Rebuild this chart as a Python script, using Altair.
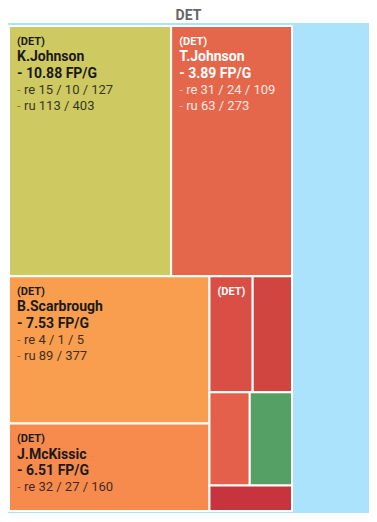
import altair as alt
import pandas as pd

team = "DET"
players = ["K.Johnson", "T.Johnson", "B.Scarbrough", "J.McKissic", "p5", "p6", "p7", "p8", "p9"]
values = [420.8, 313.7, 306.0, 181.6, 51.9, 47.2, 39.0, 40.9, 21.8]
fpg = ["10.88", "3.89", "7.53", "6.51", "", "", "", "", ""]
rec_line = ["15 / 10 / 127", "31 / 24 / 109", "4 / 1 / 5", "32 / 27 / 160", "", "", "", "", ""]
rush_line = ["113 / 403", "63 / 273", "89 / 377", "", "", "", "", "", ""]
fills = ["#cfc962", "#e5674b", "#f99e4f", "#f78b4e", "#d94f45", "#d0453f", "#e5604a", "#55a064", "#c7343e"]
text_colors = ["#1a1a1a", "#ffffff", "#1a1a1a", "#1a1a1a", "#ffffff", "#ffffff", "#ffffff", "#ffffff", "#ffffff"]
label_level = [2, 2, 2, 2, 1, 0, 0, 0, 0]

W, H = 361, 490
BOX = (1, 3, 284, 488)


def squarify(vals, x0, y0, x1, y1, ratio=(1 + 5 ** 0.5) / 2):
    out = [None] * len(vals)
    n = len(vals)
    i0 = i1 = 0
    value = sum(vals)
    while i0 < n:
        dx, dy = x1 - x0, y1 - y0
        sumv = vals[i1]
        i1 += 1
        minv = maxv = sumv
        alpha = max(dy / dx, dx / dy) / (value * ratio)
        beta = sumv * sumv * alpha
        minr = max(maxv / beta, beta / minv)
        while i1 < n:
            nv = vals[i1]
            s2 = sumv + nv
            mn, mx = min(minv, nv), max(maxv, nv)
            beta = s2 * s2 * alpha
            nr = max(mx / beta, beta / mn)
            if nr > minr:
                break
            sumv, minv, maxv, minr = s2, mn, mx, nr
            i1 += 1
        if dx < dy:
            h = dy * sumv / value
            xx = x0
            for i in range(i0, i1):
                w = dx * vals[i] / sumv
                out[i] = (xx, y0, xx + w, y0 + h)
                xx += w
            y0 += h
        else:
            w = dx * sumv / value
            yy = y0
            for i in range(i0, i1):
                h = dy * vals[i] / sumv
                out[i] = (x0, yy, x0 + w, yy + h)
                yy += h
            x0 += w
        value -= sumv
        i0 = i1
    return out


rects = squarify(values, *BOX)
df = pd.DataFrame({
    "player": players,
    "value": values,
    "x0": [r[0] for r in rects],
    "y0": [r[1] for r in rects],
    "x1": [r[2] for r in rects],
    "y1": [r[3] for r in rects],
    "fill": fills,
    "tcolor": text_colors,
    "level": label_level,
    "team": ["(" + team + ")"] * len(players),
    "fpg": ["- " + f + " FP/G" if f else "" for f in fpg],
    "re": ["re " + r if r else "" for r in rec_line],
    "ru": ["ru " + r if r else "" for r in rush_line],
})

FONT = "Roboto"
xs = alt.Scale(domain=[0, W], nice=False, zero=False)
ys = alt.Scale(domain=[0, H], nice=False, zero=False, reverse=True)

base = alt.Chart(df)

backdrop = alt.Chart(pd.DataFrame({"team": [team]})).mark_rect(color="#abe3fd").encode(
    x=alt.value(0), x2=alt.value(W), y=alt.value(0), y2=alt.value(H)
)

boxes = base.mark_rect(stroke="white", strokeWidth=2).encode(
    x=alt.X("x0:Q", scale=xs, axis=None),
    x2="x1:Q",
    y=alt.Y("y0:Q", scale=ys, axis=None),
    y2="y1:Q",
    color=alt.Color("fill:N", scale=None),
    tooltip=["player:N", "value:Q"],
)


def txt(field, dy, size, weight, flt, dx=8, opacity=1.0, text_value=None):
    enc = dict(
        x=alt.X("x0:Q", scale=xs, axis=None),
        y=alt.Y("y0:Q", scale=ys, axis=None),
        color=alt.Color("tcolor:N", scale=None),
    )
    if text_value is None:
        enc["text"] = alt.Text(field + ":N")
    else:
        enc["text"] = alt.value(text_value)
    return base.transform_filter(flt).mark_text(
        align="left", baseline="middle", dx=dx, dy=dy, fontSize=size,
        fontWeight=weight, font=FONT, opacity=opacity,
    ).encode(**enc)


layers = [
    backdrop,
    boxes,
    txt("team", 15.5, 11, "bold", "datum.level >= 1"),
    txt("player", 31, 14, "bold", "datum.level >= 2"),
    txt("fpg", 47.5, 14, "bold", "datum.level >= 2"),
    txt("re", 63.5, 13, "normal", "datum.level >= 2 && datum.re != ''", dx=15, opacity=0.85),
    txt("re", 63.5, 13, "normal", "datum.level >= 2 && datum.re != ''", dx=8, opacity=0.45, text_value="-"),
    txt("ru", 80, 13, "normal", "datum.level >= 2 && datum.ru != ''", dx=15, opacity=0.85),
    txt("ru", 80, 13, "normal", "datum.level >= 2 && datum.ru != ''", dx=8, opacity=0.45, text_value="-"),
]

chart = alt.layer(*layers).properties(
    width=W,
    height=H,
    padding={"top": 1, "left": 0, "right": 0, "bottom": 0},
    title=alt.TitleParams(team, fontSize=14, fontWeight="bold", color="#666666",
                          font=FONT, anchor="middle", offset=0),
).configure_view(strokeWidth=0).configure(background="white")

chart.save("out.html", embed_options={"renderer": "svg", "actions": False})
